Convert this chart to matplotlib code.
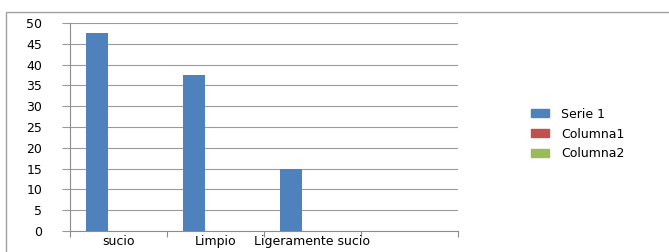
import matplotlib
matplotlib.use("Agg")
import matplotlib.pyplot as plt
import numpy as np
from matplotlib.patches import Rectangle, Patch

categories = ["sucio", "Limpio", "Ligeramente sucio", ""]
serie_1 = [47.5, 37.5, 15, 0]
columna_1 = [0, 0, 0, 0]
columna_2 = [0, 0, 0, 0]
series_names = ["Serie 1", "Columna1", "Columna2"]
colors = ["#4F81BD", "#C0504D", "#9BBB59"]
y_ticks = list(range(0, 55, 5))

fig = plt.figure(figsize=(6.69, 2.52), dpi=100)
fig.patches.append(Rectangle((6 / 669, -0.1), 1.0, 1 - 12 / 252 + 0.1, transform=fig.transFigure,
                             fill=False, edgecolor="#A0A0A0", linewidth=1.0))

ax = fig.add_axes([70 / 669, 1 - 231 / 252, 388 / 669, 208 / 252])
x = np.arange(len(categories))
w = 1 / 4.5
for i, (vals, c) in enumerate(zip([serie_1, columna_1, columna_2], colors)):
    ax.bar(x + (i - 1) * w, vals, width=w, color=c, zorder=3)

ax.set_xlim(-0.5, len(categories) - 0.5)
ax.set_ylim(0, 50)
ax.set_yticks(y_ticks)
ax.yaxis.grid(True, color="#9A9A9A", linewidth=0.8, zorder=0)
for s in ["top", "right"]:
    ax.spines[s].set_visible(False)
ax.spines["left"].set_color("#8C8C8C")
ax.spines["bottom"].set_color("#8C8C8C")
ax.tick_params(axis="y", length=6, color="#9A9A9A", labelsize=9, pad=14)
ax.set_xticks(np.arange(-0.5, len(categories)), minor=False)
ax.set_xticklabels([])
ax.tick_params(axis="x", length=4, color="#8C8C8C")
ax.set_xticks(x, minor=True)
ax.set_xticklabels(categories, minor=True, fontsize=9)
ax.tick_params(axis="x", which="minor", length=0, pad=3)

handles = [Patch(color=c, label=n) for c, n in zip(colors, series_names)]
fig.legend(handles=handles, loc="center left", bbox_to_anchor=(520 / 669, 1 - 134 / 252),
           frameon=False, fontsize=9, handlelength=1.4, handleheight=0.6, labelspacing=0.55,
           handletextpad=1.0)

fig.savefig("out.png", dpi=100)
